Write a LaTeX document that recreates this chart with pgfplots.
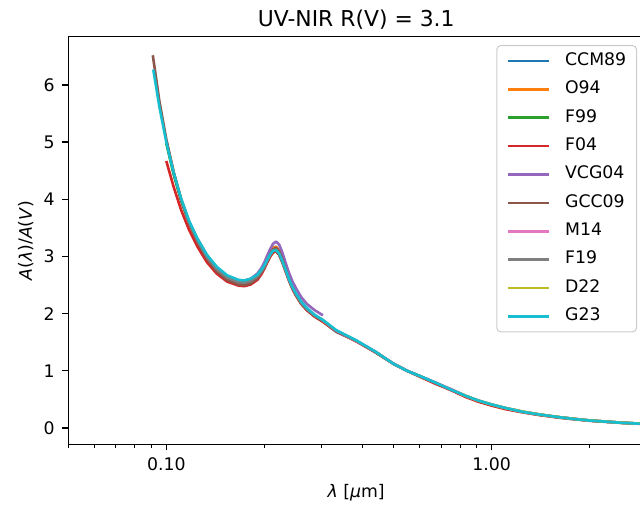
\documentclass[border=0pt]{standalone}
\usepackage{fontspec}
\setmainfont{DejaVu Sans}
\usepackage{pgfplots}
\pgfplotsset{compat=1.18}
\usepackage{pgfplotstable}

\definecolor{c0}{HTML}{1F77B4}
\definecolor{c1}{HTML}{FF7F0E}
\definecolor{c2}{HTML}{2CA02C}
\definecolor{c3}{HTML}{D62728}
\definecolor{c4}{HTML}{9467BD}
\definecolor{c5}{HTML}{8C564B}
\definecolor{c6}{HTML}{E377C2}
\definecolor{c7}{HTML}{7F7F7F}
\definecolor{c8}{HTML}{BCBD22}
\definecolor{c9}{HTML}{17BECF}
\definecolor{legframe}{HTML}{CCCCCC}

% CCM89
\pgfplotstableread{
lam A
0.1 5.02
0.1053 4.47
0.1111 4.00
0.1176 3.60
0.125 3.28
0.1333 3.00
0.1429 2.78
0.1538 2.63
0.1667 2.55
0.1739 2.54
0.1818 2.57
0.1905 2.65
0.2 2.84
0.2083 3.07
0.2128 3.15
0.2174 3.17
0.2222 3.10
0.2273 2.95
0.2381 2.62
0.25 2.34
0.2703 2.07
0.2857 1.95
0.303 1.86
0.333 1.68
0.3846 1.52
0.4405 1.32
0.5 1.12
0.5495 1.00
0.6 0.91
0.667 0.80
0.75 0.67
0.833 0.55
0.909 0.47
1.0 0.40
1.1 0.347
1.25 0.28
1.4 0.235
1.6 0.19
1.8 0.157
2.0 0.13
2.5 0.092
3.0 0.069
3.33 0.058
}\tCCM

% O94
\pgfplotstableread{
lam A
0.1 5.02
0.1053 4.47
0.1111 4.00
0.1176 3.60
0.125 3.28
0.1333 3.00
0.1429 2.78
0.1538 2.63
0.1667 2.55
0.1739 2.54
0.1818 2.57
0.1905 2.65
0.2 2.84
0.2083 3.07
0.2128 3.15
0.2174 3.17
0.2222 3.10
0.2273 2.95
0.2381 2.62
0.25 2.34
0.2703 2.07
0.2857 1.95
0.303 1.86
0.333 1.69
0.3846 1.52
0.4405 1.32
0.5 1.12
0.5495 1.00
0.6 0.90
0.667 0.79
0.75 0.67
0.833 0.56
0.909 0.47
1.0 0.40
1.1 0.347
1.25 0.28
1.4 0.235
1.6 0.19
1.8 0.157
2.0 0.13
2.5 0.092
3.0 0.069
3.33 0.058
}\tOnf

% F99
\pgfplotstableread{
lam A
0.1 4.98
0.1053 4.44
0.1111 3.97
0.1176 3.58
0.125 3.25
0.1333 2.97
0.1429 2.76
0.1538 2.61
0.1667 2.53
0.1739 2.52
0.1818 2.55
0.1905 2.63
0.1961 2.72
0.2 2.80
0.2041 2.90
0.2083 3.00
0.2128 3.07
0.2174 3.09
0.2222 3.03
0.2273 2.90
0.2326 2.75
0.2381 2.59
0.2439 2.45
0.25 2.33
0.2597 2.18
0.2703 2.07
0.2857 1.96
0.303 1.87
0.333 1.70
0.3846 1.52
0.4405 1.32
0.5 1.12
0.5495 1.00
0.6 0.91
0.667 0.79
0.75 0.67
0.833 0.55
0.909 0.47
1.0 0.40
1.1 0.34
1.25 0.28
1.4 0.23
1.6 0.19
1.8 0.155
2.0 0.13
2.5 0.092
3.0 0.069
3.33 0.058
}\tFnn

% F04
\pgfplotstableread{
lam A
0.1 4.67
0.1053 4.22
0.1111 3.81
0.1176 3.46
0.125 3.16
0.1333 2.90
0.1429 2.70
0.1538 2.56
0.1667 2.49
0.1739 2.48
0.1818 2.51
0.1905 2.59
0.1961 2.69
0.2 2.78
0.2041 2.89
0.2083 2.99
0.2128 3.07
0.2174 3.09
0.2222 3.03
0.2273 2.90
0.2326 2.74
0.2381 2.58
0.2439 2.44
0.25 2.32
0.2597 2.17
0.2703 2.06
0.2857 1.95
0.303 1.86
0.333 1.69
0.3846 1.51
0.4405 1.32
0.5 1.12
0.5495 1.00
0.6 0.90
0.667 0.78
0.75 0.66
0.833 0.54
0.909 0.46
1.0 0.39
1.1 0.33
1.25 0.27
1.4 0.225
1.6 0.18
1.8 0.15
2.0 0.125
2.5 0.088
3.0 0.066
3.33 0.056
}\tFzf

% VCG04
\pgfplotstableread{
lam A
0.125 3.30
0.1333 3.02
0.1429 2.80
0.1538 2.65
0.1667 2.58
0.1739 2.58
0.1818 2.61
0.1905 2.70
0.1961 2.80
0.2 2.89
0.2041 3.01
0.2083 3.12
0.2128 3.22
0.2174 3.26
0.2222 3.21
0.2273 3.07
0.2326 2.89
0.2381 2.72
0.2439 2.57
0.25 2.45
0.2597 2.29
0.2703 2.17
0.2857 2.06
0.303 1.97
}\tVCG

% GCC09
\pgfplotstableread{
lam A
0.0909 6.52
0.0952 5.72
0.1 5.05
0.1053 4.48
0.1111 3.99
0.1176 3.58
0.125 3.24
0.1333 2.96
0.1429 2.74
0.1538 2.59
0.1667 2.51
0.1739 2.50
0.1818 2.53
0.1905 2.62
0.1961 2.72
0.2 2.80
0.2041 2.92
0.2083 3.03
0.2128 3.12
0.2174 3.15
0.2222 3.09
0.2273 2.95
0.2326 2.78
0.2381 2.61
0.2439 2.46
0.25 2.34
0.2597 2.18
0.2703 2.07
0.2857 1.96
0.303 1.87
}\tGCC

% M14
\pgfplotstableread{
lam A
0.303 1.88
0.333 1.70
0.3846 1.52
0.4405 1.33
0.5 1.12
0.5495 1.00
0.6 0.91
0.667 0.80
0.75 0.68
0.833 0.56
0.909 0.48
1.0 0.41
1.1 0.35
1.25 0.28
1.4 0.235
1.6 0.19
1.8 0.157
2.0 0.13
2.5 0.092
3.0 0.069
3.33 0.058
}\tMft

% F19
\pgfplotstableread{
lam A
0.115 3.72
0.1176 3.60
0.125 3.27
0.1333 2.99
0.1429 2.78
0.1538 2.63
0.1667 2.55
0.1739 2.54
0.1818 2.57
0.1905 2.65
0.1961 2.74
0.2 2.82
0.2041 2.92
0.2083 3.02
0.2128 3.10
0.2174 3.12
0.2222 3.06
0.2273 2.92
0.2326 2.76
0.2381 2.60
0.2439 2.46
0.25 2.34
0.2597 2.19
0.2703 2.08
0.2857 1.97
0.303 1.88
0.333 1.70
0.3846 1.52
0.4405 1.33
0.5 1.12
0.5495 1.00
0.6 0.91
0.667 0.80
0.75 0.67
0.833 0.56
0.909 0.48
1.0 0.41
1.1 0.35
1.25 0.28
1.4 0.235
1.6 0.19
1.8 0.156
2.0 0.13
2.5 0.091
3.0 0.068
3.33 0.057
}\tFnt

% D22
\pgfplotstableread{
lam A
0.8 0.60
0.833 0.56
0.909 0.48
1.0 0.41
1.1 0.35
1.25 0.285
1.4 0.237
1.6 0.19
1.8 0.157
2.0 0.131
2.5 0.092
3.0 0.070
3.33 0.060
}\tDtt

% G23
\pgfplotstableread{
lam A
0.0912 6.27
0.0952 5.62
0.1 5.00
0.1053 4.47
0.1111 4.01
0.1176 3.62
0.125 3.30
0.1333 3.03
0.1429 2.82
0.1538 2.67
0.1667 2.59
0.1739 2.58
0.1818 2.61
0.1905 2.68
0.1961 2.77
0.2 2.84
0.2041 2.94
0.2083 3.03
0.2128 3.10
0.2174 3.11
0.2222 3.05
0.2273 2.92
0.2326 2.77
0.2381 2.61
0.2439 2.47
0.25 2.36
0.2597 2.21
0.2703 2.10
0.2857 1.98
0.303 1.89
0.333 1.71
0.3846 1.53
0.4405 1.33
0.5 1.12
0.5495 1.00
0.6 0.91
0.667 0.80
0.75 0.67
0.833 0.56
0.909 0.48
1.0 0.41
1.1 0.35
1.25 0.28
1.4 0.235
1.6 0.19
1.8 0.155
2.0 0.13
2.5 0.090
3.0 0.068
3.33 0.057
}\tGtt

\begin{document}
\begin{tikzpicture}
\begin{axis}[
  name=ax,
  scale only axis,
  width=416pt, height=294.6pt,
  xmode=log,
  xmin=0.05, xmax=2.94,
  ymin=-0.287, ymax=6.845,
  xtick={0.1,1}, xticklabels={0.10,1.00},
  minor xtick={0.05,0.06,0.07,0.08,0.09,0.2,0.3,0.4,0.5,0.6,0.7,0.8,0.9,2},
  ytick={0,1,2,3,4,5,6},
  tick pos=left,
  tick align=outside,
  major tick length=4.4pt, minor tick length=2.5pt,
  tick style={black, line width=1pt},
  minor tick style={line width=0.75pt},
  axis line style={line width=1pt},
  /pgf/number format/assume math mode=true,
  tick label style={font=\fontsize{12.5}{15}\selectfont},
  xticklabel style={yshift=-2pt},
  yticklabel style={xshift=-2pt},
  xlabel={\textit{λ} [\textit{μ}m]},
  xlabel style={font=\fontsize{12.5}{15}\selectfont, at={(axis description cs:0.5,-0.118)}, anchor=center},
  ylabel={\textit{A}(\textit{λ})/\textit{A}(\textit{V})},
  ylabel style={font=\fontsize{12.5}{15}\selectfont, at={(axis description cs:-0.073,0.5)}, anchor=center},
  every axis plot/.append style={line width=1.88pt, line join=round},
  legend image code/.code={\draw[#1] (0pt,0pt) -- (29pt,0pt);},
  legend cell align=left,
  legend style={at={(1,1)}, anchor=north east, xshift=-5pt, yshift=-6pt,
    draw=legframe, line width=0.75pt, rounded corners=3pt, fill=white,
    inner xsep=7.5pt, inner ysep=5pt, row sep=8pt, column sep=0pt,
    font=\fontsize{12.5}{15}\selectfont,
    nodes={inner sep=0pt, text height=9.3pt, text depth=3.2pt}},
]
\addplot[c0] table[x=lam,y=A]{\tCCM};
\addlegendentry{\hspace*{11pt}CCM89}
\addplot[c1] table[x=lam,y=A]{\tOnf};
\addlegendentry{\hspace*{11pt}O94}
\addplot[c2] table[x=lam,y=A]{\tFnn};
\addlegendentry{\hspace*{11pt}F99}
\addplot[c3] table[x=lam,y=A]{\tFzf};
\addlegendentry{\hspace*{11pt}F04}
\addplot[c4] table[x=lam,y=A]{\tVCG};
\addlegendentry{\hspace*{11pt}VCG04}
\addplot[c5] table[x=lam,y=A]{\tGCC};
\addlegendentry{\hspace*{11pt}GCC09}
\addplot[c6] table[x=lam,y=A]{\tMft};
\addlegendentry{\hspace*{11pt}M14}
\addplot[c7] table[x=lam,y=A]{\tFnt};
\addlegendentry{\hspace*{11pt}F19}
\addplot[c8] table[x=lam,y=A]{\tDtt};
\addlegendentry{\hspace*{11pt}D22}
\addplot[c9] table[x=lam,y=A]{\tGtt};
\addlegendentry{\hspace*{11pt}G23}
\end{axis}
\node[font=\fontsize{15.8}{19}\selectfont, anchor=base, inner sep=0pt] at ([yshift=7.2pt]ax.north) {UV-NIR R(V) = 3.1};
\pgfresetboundingbox
\path ([xshift=-49.4pt,yshift=-46pt]ax.south west) rectangle ([xshift=-2.9pt,yshift=26.5pt]ax.north east);
\end{tikzpicture}
\end{document}
